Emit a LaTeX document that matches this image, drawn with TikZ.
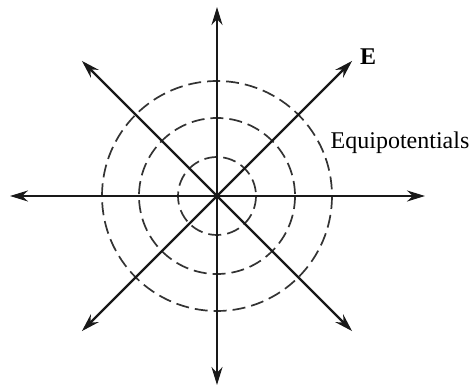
\documentclass[tikz,border=0pt]{standalone}
\usepackage{fontspec}
\setmainfont{Liberation Serif}
\usetikzlibrary{arrows.meta,calc}

\begin{document}
\begin{tikzpicture}[x=0.5pt,y=-0.5pt,every node/.style={font=\fontsize{12}{14}\selectfont},field/.style={-{Stealth[length=9pt,width=5.5pt]},line width=1.1pt,draw=black!90},equi/.style={dashed,dash pattern=on 6.5pt off 3pt,line width=0.85pt,draw=black!80}]
\useasboundingbox (0,0) rectangle (471,389);
\coordinate (O) at (217,196);
% equipotential circles
\foreach \r in {39,78,115} \draw[equi] (O) circle (\r);
% field lines
\foreach \a/\l in {0/208,45/191,90/189,135/191,180/207,225/191,270/189,315/191}{
  \coordinate (tip\a) at ($(O)+(\a:\l)$);
  \draw[field] (O) -- (tip\a);}
\node (E) at (368,57) {\textbf{E}};
\node (lab) at (400,143) {Equipotentials};
\end{tikzpicture}
\end{document}
